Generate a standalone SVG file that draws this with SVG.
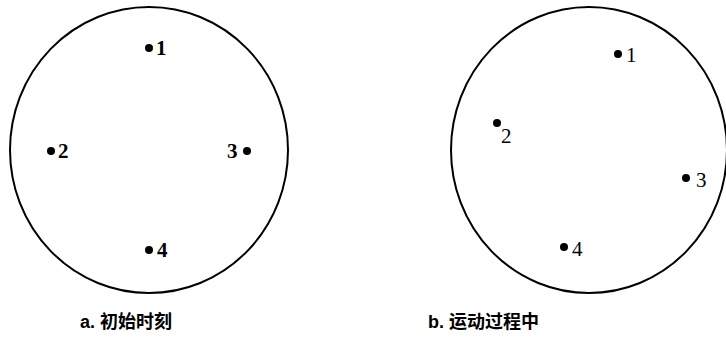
<svg xmlns="http://www.w3.org/2000/svg" width="726" height="338" viewBox="0 0 726 338">
<style>
.ring{fill:none;stroke:#000;stroke-width:2}
.dot{fill:#000}
.num{font-family:"Liberation Serif",serif;font-size:21px;font-weight:bold;fill:#000}
.thin{font-weight:normal}
.cap{font-family:"Liberation Sans","Noto Sans CJK SC",sans-serif;font-size:18px;font-weight:bold;fill:#000}
</style>
<rect width="726" height="338" fill="#fff"/>
<g id="panel-a">
<ellipse class="ring" cx="149" cy="150" rx="139" ry="143"/>
<g id="a1"><circle class="dot" cx="149" cy="48" r="4"/><text class="num" x="156" y="55">1</text></g>
<g id="a2"><circle class="dot" cx="51" cy="151" r="4"/><text class="num" x="58" y="158">2</text></g>
<g id="a3"><circle class="dot" cx="247" cy="151" r="4"/><text class="num" x="227" y="158">3</text></g>
<g id="a4"><circle class="dot" cx="149" cy="250" r="4"/><text class="num" x="157" y="257">4</text></g>
<text class="cap" x="80" y="328">a. 初始时刻</text>
</g>
<g id="panel-b">
<ellipse class="ring" cx="589" cy="150" rx="138" ry="143"/>
<g id="b1"><circle class="dot" cx="618" cy="54" r="4"/><text class="num thin" x="626" y="62">1</text></g>
<g id="b2"><circle class="dot" cx="497" cy="123" r="4"/><text class="num thin" x="501" y="143">2</text></g>
<g id="b3"><circle class="dot" cx="686" cy="178" r="4"/><text class="num thin" x="696" y="187">3</text></g>
<g id="b4"><circle class="dot" cx="564" cy="247" r="4"/><text class="num thin" x="572" y="256">4</text></g>
<text class="cap" x="428" y="328">b. 运动过程中</text>
</g>
<g id="connectors"/>
</svg>
